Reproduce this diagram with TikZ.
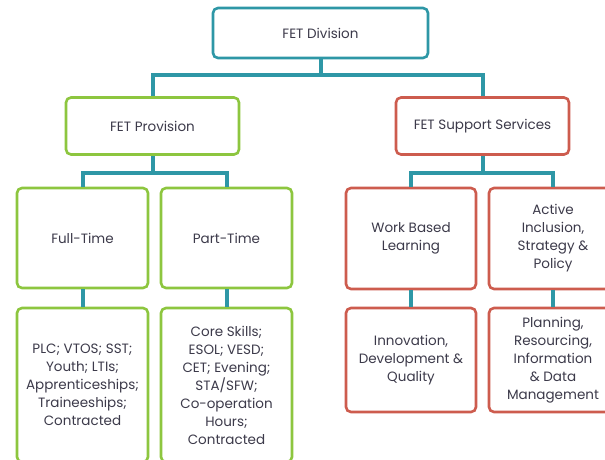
\documentclass[tikz,border=0pt]{standalone}
\usepackage{fontspec}
\setmainfont{Poppins}
\usetikzlibrary{positioning}

\definecolor{tealline}{HTML}{2E97A6}
\definecolor{greenline}{HTML}{8DC63F}
\definecolor{redline}{HTML}{CD5C4E}
\definecolor{textgrey}{HTML}{3C3A4A}

\begin{document}
\begin{tikzpicture}[
      x=1pt, y=-1pt,
      box/.style={rectangle, draw, line width=2.6pt, rounded corners=5pt, fill=white, text=textgrey, align=center, font=\fontsize{13.5}{18}\selectfont, inner sep=1pt},
      divbox/.style={box, draw=tealline, minimum width=215pt, minimum height=50pt},
      provbox/.style={box, draw=greenline},
      suppbox/.style={box, draw=redline},
      link/.style={draw=tealline, line width=4pt}
    ]
    \useasboundingbox (0,0) rectangle (605,459);

    % top level
    \node[divbox] (div) at (320.5,33) {FET Division};

    % second level
    \node[provbox, minimum width=173pt, minimum height=57pt] (prov) at (152.5,126) {FET Provision};
    \node[suppbox, minimum width=173pt, minimum height=57pt] (supp) at (482.5,126) {FET Support Services};

    % third level
    \node[provbox, minimum width=131pt, minimum height=100pt] (full) at (82.5,238) {Full-Time};
    \node[provbox, minimum width=131pt, minimum height=100pt] (part) at (226.5,238) {Part-Time};
    \node[suppbox, minimum width=130pt, minimum height=101pt] (wbl) at (411,238.5) {Work Based\\Learning};
    \node[suppbox, minimum width=128pt, minimum height=101pt] (aisp) at (553,238.5) {Active\\Inclusion,\\Strategy \&\\Policy};

    % fourth level
    \node[provbox, minimum width=131pt, minimum height=154pt] (fullsub) at (82.5,385) {PLC; VTOS; SST;\\Youth; LTIs;\\Apprenticeships;\\Traineeships;\\Contracted};
    \node[provbox, minimum width=131pt, minimum height=154pt] (partsub) at (226.5,385) {Core Skills;\\ESOL; VESD;\\CET; Evening;\\STA/SFW;\\Co-operation\\Hours;\\Contracted};
    \node[suppbox, minimum width=130pt, minimum height=104pt] (idq) at (411,360) {Innovation,\\Development \&\\Quality};
    \node[suppbox, minimum width=128pt, minimum height=104pt] (prid) at (553,360) {Planning,\\Resourcing,\\Information\\\& Data\\Management};

    % connectors
    \draw[link] (div.south) -- (div.south |- 0,75) -| (prov.north);
    \draw[link] (div.south |- 0,75) -| (supp.north);
    \draw[link] (prov.south) -- (prov.south |- 0,173) -| (full.north);
    \draw[link] (prov.south |- 0,173) -| (part.north);
    \draw[link] (supp.south) -- (supp.south |- 0,173) -| (wbl.north);
    \draw[link] (supp.south |- 0,173) -| (aisp.north);
    \draw[link] (full) -- (fullsub);
    \draw[link] (part) -- (partsub);
    \draw[link] (wbl) -- (idq);
    \draw[link] (aisp) -- (prid);

    \end{tikzpicture}
\end{document}
